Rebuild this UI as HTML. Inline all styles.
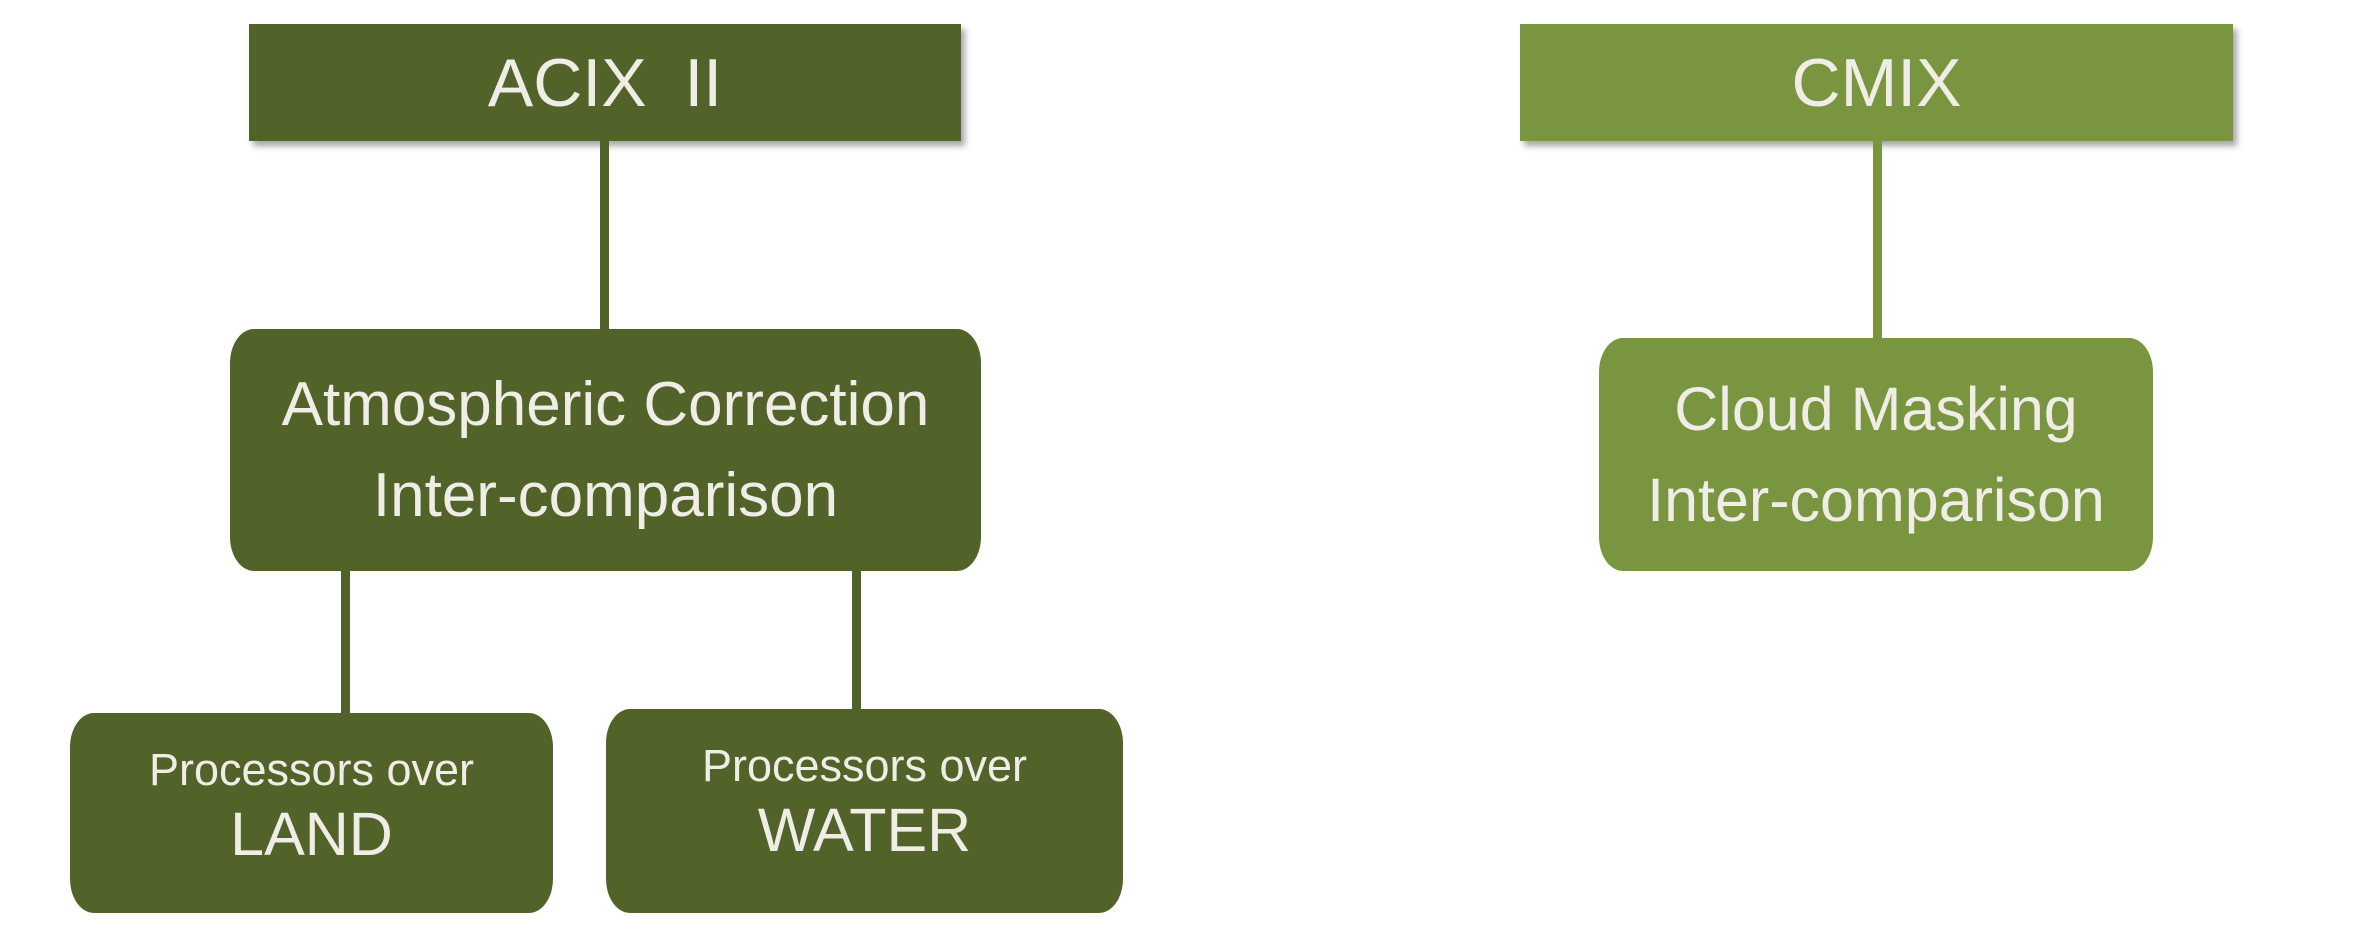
<!DOCTYPE html>
<html><head><style>
body{margin:0;width:2358px;height:932px;background:#fff;position:relative;overflow:hidden;font-family:"Liberation Sans",sans-serif;color:#efede6}
.b{position:absolute;display:flex;flex-direction:column;align-items:center;justify-content:center;text-align:center}
.d{background:#52632a}.l{background:#7a953f}
.ln{position:absolute;width:9px}
.r{border-radius:24px/34px}
</style></head><body>
<div class="b d" style="left:249px;top:24px;width:712px;height:117px;box-shadow:4px 5px 6px rgba(0,0,0,.35);font-size:68px">ACIX&nbsp; II</div>
<div class="b l" style="left:1520px;top:24px;width:713px;height:117px;box-shadow:4px 5px 6px rgba(0,0,0,.35);font-size:68px">CMIX</div>
<div class="ln d" style="left:600px;top:141px;height:190px"></div>
<div class="ln l" style="left:1873px;top:141px;height:199px"></div>
<div class="ln d" style="left:341px;top:570px;height:145px"></div>
<div class="ln d" style="left:852px;top:570px;height:141px"></div>
<div class="b d r" style="left:230px;top:329px;width:751px;height:242px;font-size:62px;line-height:91px">Atmospheric Correction<br>Inter-comparison</div>
<div class="b l r" style="left:1599px;top:338px;width:554px;height:233px;font-size:61px;line-height:91px">Cloud Masking<br>Inter-comparison</div>
<div class="b d r" style="left:70px;top:713px;width:483px;height:200px;font-size:45px;line-height:52px"><div style="margin-top:-10px">Processors over</div><div style="font-size:61px;line-height:76px">LAND</div></div>
<div class="b d r" style="left:606px;top:709px;width:517px;height:204px;font-size:45px;line-height:52px"><div style="margin-top:-14px">Processors over</div><div style="font-size:61px;line-height:76px">WATER</div></div>
</body></html>
